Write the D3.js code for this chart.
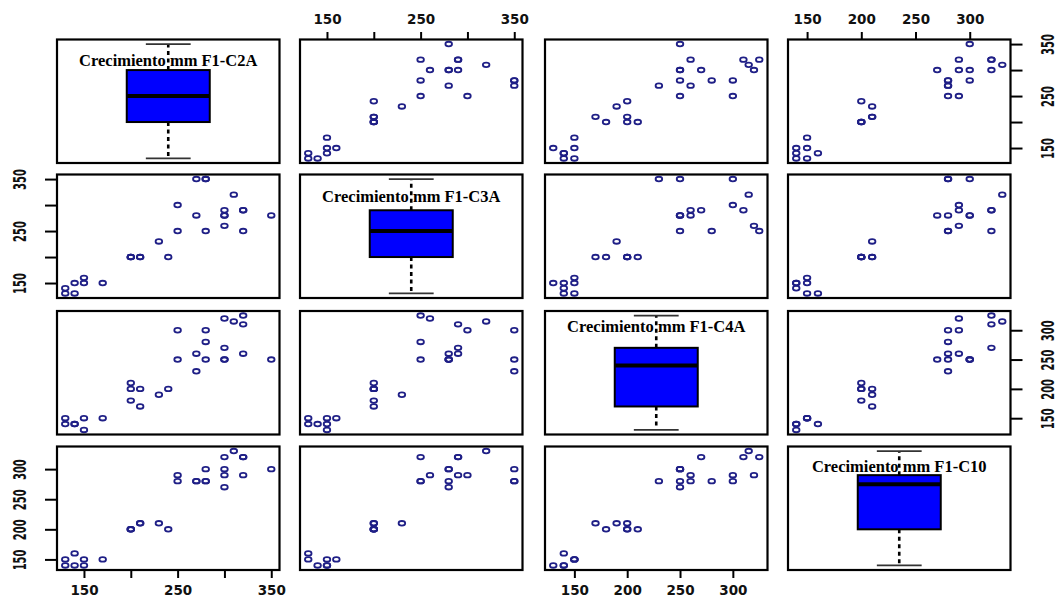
<!DOCTYPE html>
<html>
<head>
<meta charset="utf-8">
<script src="https://cdn.jsdelivr.net/npm/d3@7"></script>
<style>
  body { margin: 0; background: #fff; }
  .tick-lab { font-family: "DejaVu Sans", sans-serif; font-weight: bold; fill: #111; }
  .diag-title { font-family: "Liberation Serif", "Times New Roman", serif; font-weight: bold; font-size: 16.5px; fill: #000; }
</style>
</head>
<body>
<script>
// growth (mm) per plant, one value per observation
const growthC2A = [310, 320, 320, 300, 320, 350, 300, 300, 250, 280, 280, 280, 250, 270, 270,
  300, 230, 200, 200, 200, 210, 210, 240, 170, 150, 150, 140, 140, 130, 130];
const growthC3A = [320, 250, 290, 260, 290, 280, 290, 280, 300, 350, 250, 350, 250, 280, 350,
  280, 230, 200, 200, 200, 200, 200, 200, 150, 160, 150, 130, 150, 130, 140];
const growthC4A = [315, 325, 310, 320, 260, 250, 270, 250, 300, 300, 280, 250, 250, 260, 230,
  250, 190, 210, 200, 180, 200, 170, 200, 150, 150, 130, 140, 140, 150, 140];
const growthC10 = [330, 320, 320, 290, 290, 300, 320, 270, 290, 280, 280, 300, 280, 280, 280,
  300, 210, 200, 200, 200, 210, 210, 200, 150, 150, 140, 160, 140, 150, 140];

const varNames = ['Crecimiento mm F1-C2A', 'Crecimiento mm F1-C3A',
  'Crecimiento mm F1-C4A', 'Crecimiento mm F1-C10'];

const ticksWide = [150, 200, 250, 300, 350];
const labelsWide = [150, 250, 350];
const ticksNarrow = [150, 200, 250, 300];
const labelsNarrow = [150, 200, 250, 300];

const series = [growthC2A, growthC3A, growthC4A, growthC10];
const tickSets = [ticksWide, ticksWide, ticksNarrow, ticksNarrow];
const labelSets = [labelsWide, labelsWide, labelsNarrow, labelsNarrow];

// panel grid
const colX = [57, 300, 545, 788];
const rowY = [39.5, 174.5, 311, 446.5];
const pw = 222.5, ph = 123.5;
const titleBase = [26, 27.5, 20.5, 25.5];

const svg = d3.select('body').append('svg')
  .attr('width', 1059)
  .attr('height', 601);

const padded = (v) => {
  let [lo, hi] = d3.extent(v);
  let p = (hi - lo) * 0.04;
  return [lo - p, hi + p];
};

const xs = series.map((v, i) => d3.scaleLinear().domain(padded(v)).range([colX[i], colX[i] + pw]));
const ys = series.map((v, i) => d3.scaleLinear().domain(padded(v)).range([rowY[i] + ph, rowY[i]]));

// R style fivenum (Tukey hinges)
const fivenum = (v) => {
  let x = v.slice().sort(d3.ascending);
  let n = x.length;
  let n4 = Math.floor((n + 3) / 2) / 2;
  let d = [1, n4, (n + 1) / 2, n + 1 - n4, n];
  return d.map((p) => 0.5 * (x[Math.floor(p) - 1] + x[Math.ceil(p) - 1]));
};

for (let r = 0; r < 4; r++) {
  for (let c = 0; c < 4; c++) {
    let g = svg.append('g');

    if (r === c) {
      let st = fivenum(series[r]);
      let iqr = st[3] - st[1];
      let lowW = d3.min(series[r].filter((d) => d >= st[1] - 1.5 * iqr));
      let highW = d3.max(series[r].filter((d) => d <= st[3] + 1.5 * iqr));
      let y = ys[r];
      let cx = colX[c] + pw / 2;
      let bw = pw * 0.373;

      g.append('text')
        .attr('class', 'diag-title')
        .attr('x', cx)
        .attr('y', rowY[r] + titleBase[r])
        .attr('text-anchor', 'middle')
        .text(varNames[r]);

      [[st[3], highW], [st[1], lowW]].forEach(([a, b]) => {
        g.append('line')
          .attr('x1', cx).attr('x2', cx)
          .attr('y1', y(a)).attr('y2', y(b))
          .attr('stroke', '#000')
          .attr('stroke-width', 2.6)
          .attr('stroke-dasharray', '4,3.5');
        g.append('line')
          .attr('x1', cx - bw * 0.27).attr('x2', cx + bw * 0.27)
          .attr('y1', y(b)).attr('y2', y(b))
          .attr('stroke', '#333')
          .attr('stroke-width', 1.8);
      });

      g.append('rect')
        .attr('x', cx - bw / 2)
        .attr('y', y(st[3]))
        .attr('width', bw)
        .attr('height', y(st[1]) - y(st[3]))
        .attr('fill', '#0000ff')
        .attr('stroke', '#000')
        .attr('stroke-width', 2);

      g.append('line')
        .attr('x1', cx - bw / 2).attr('x2', cx + bw / 2)
        .attr('y1', y(st[2])).attr('y2', y(st[2]))
        .attr('stroke', '#000')
        .attr('stroke-width', 4);
    } else {
      let pts = series[c].map((d, i) => [d, series[r][i]]);
      g.selectAll('ellipse')
        .data(pts)
        .enter()
        .append('ellipse')
        .attr('cx', (d) => xs[c](d[0]))
        .attr('cy', (d) => ys[r](d[1]))
        .attr('rx', 3.3)
        .attr('ry', 2.3)
        .attr('fill', 'none')
        .attr('stroke', '#1f1f86')
        .attr('stroke-width', 1.8);
    }

    g.append('rect')
      .attr('x', colX[c])
      .attr('y', rowY[r])
      .attr('width', pw)
      .attr('height', ph)
      .attr('fill', 'none')
      .attr('stroke', '#000')
      .attr('stroke-width', 2.2);
  }
}

// axes alternate like R pairs(): top/bottom and left/right
const fmt = (k) => (d) => labelSets[k].includes(d) ? d : '';

for (let k = 0; k < 4; k++) {
  let horiz = k % 2 === 0
    ? d3.axisBottom(xs[k]).tickSize(8)
    : d3.axisTop(xs[k]).tickSize(7.5);
  let hy = k % 2 === 0 ? rowY[3] + ph : rowY[0];
  let ga = svg.append('g')
    .attr('transform', `translate(0,${hy})`)
    .call(horiz.tickValues(tickSets[k]).tickFormat(fmt(k)).tickPadding(k % 2 === 0 ? 7 : 8.5));
  ga.select('.domain').remove();
  ga.selectAll('line').attr('stroke', '#000').attr('stroke-width', 2);
  ga.selectAll('text')
    .attr('class', 'tick-lab')
    .attr('font-size', null)
    .style('font-size', '13.5px');

  let vert = k % 2 === 0 ? d3.axisRight(ys[k]) : d3.axisLeft(ys[k]);
  let vx = k % 2 === 0 ? colX[3] + pw : colX[0];
  let sgn = k % 2 === 0 ? 1 : -1;
  let gv = svg.append('g')
    .attr('transform', `translate(${vx},0)`)
    .call(vert.tickValues(tickSets[k]).tickFormat(fmt(k)).tickSize(12));
  gv.select('.domain').remove();
  gv.selectAll('line').attr('stroke', '#000').attr('stroke-width', 2);
  gv.selectAll('text')
    .attr('class', 'tick-lab')
    .style('font-size', '10px')
    .attr('x', null)
    .attr('dy', '0.36em')
    .attr('text-anchor', 'middle')
    .attr('transform', `translate(${sgn * 37},0) scale(1.7,1) rotate(-90)`);
}
</script>
</body>
</html>
